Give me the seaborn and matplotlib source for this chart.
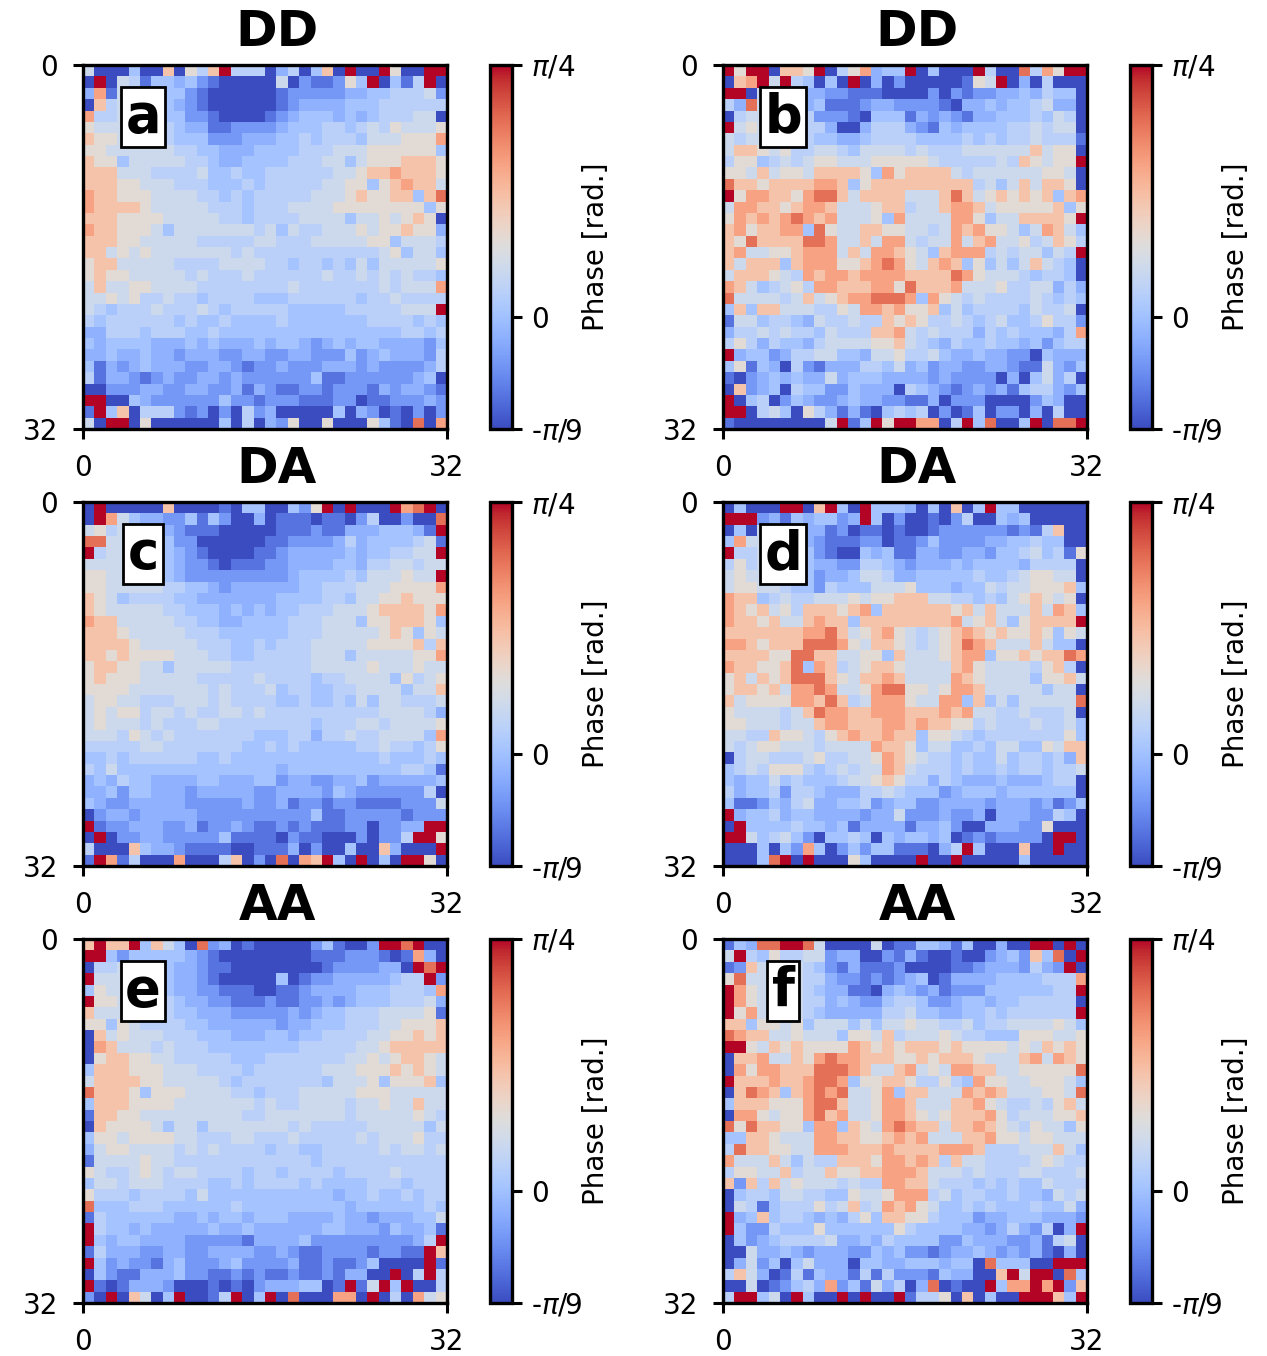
import numpy as np
import matplotlib
matplotlib.use('Agg')
import matplotlib.pyplot as plt
import seaborn as sns

# colour-level code -> fraction of the colour range (vmin .. vmax)
code_frac = {'0': 0.00, '1': 0.09, '2': 0.18, '3': 0.26, '4': 0.32, '5': 0.38,
             '6': 0.44, '7': 0.52, '8': 0.63, '9': 0.73, 'A': 0.84, 'B': 1.00}
vmin, vmax = -np.pi / 9, np.pi / 4

titles = ['DD', 'DD', 'DA', 'DA', 'AA', 'AA']
letters = ['a', 'b', 'c', 'd', 'e', 'f']

panel_a = [
    "6 0 0 0 4 0 0 8 0 7 5 8 B 5 5 5 0 3 5 0 4 8 0 B 0 0 B 7 0 0 B B",
    "0 B 0 6 5 1 4 4 3 4 2 1 0 0 0 0 0 6 0 2 1 1 2 7 4 B 0 4 1 5 B 0",
    "3 9 1 6 6 6 6 4 4 2 1 0 0 0 0 0 0 1 2 2 2 2 2 3 3 4 4 5 5 5 6 2",
    "0 8 5 6 6 6 6 4 3 2 1 0 0 0 0 0 0 1 2 3 3 3 3 4 4 4 5 5 5 5 5 5",
    "9 5 5 6 6 6 6 4 4 2 2 1 0 0 0 0 1 2 3 4 4 4 3 4 3 4 5 5 5 6 6 0",
    "7 6 6 6 6 6 6 5 4 3 3 1 1 2 2 2 2 3 4 4 4 5 5 4 5 6 5 7 6 6 6 7",
    "8 7 7 6 6 6 6 5 4 4 4 2 2 2 3 3 3 4 4 5 4 5 5 5 4 6 6 6 7 7 7 9",
    "7 7 6 6 6 6 6 6 5 5 4 4 3 3 3 4 4 4 4 5 5 5 6 6 6 7 7 7 7 7 7 4",
    "8 7 7 4 6 6 6 6 6 5 5 4 3 3 4 4 4 4 5 5 5 6 6 4 6 7 7 7 8 8 8 7",
    "8 8 8 6 6 6 5 5 5 5 6 4 4 5 4 4 5 5 5 5 5 5 6 6 7 8 8 9 8 8 8 7",
    "8 8 8 7 7 6 6 6 5 5 5 4 4 4 5 4 5 5 5 5 5 6 6 7 7 4 7 8 9 8 8 6",
    "9 8 8 7 7 7 6 6 6 6 5 5 4 5 4 5 5 5 5 5 6 6 6 7 8 7 7 8 8 4 8 A",
    "9 8 8 8 8 7 6 6 6 6 6 5 5 5 4 5 5 5 6 6 6 6 7 7 7 7 7 7 7 7 4 7",
    "8 8 8 7 7 7 7 6 6 6 6 6 5 5 4 5 5 5 5 6 6 6 6 4 6 6 7 6 7 8 7 0",
    "9 8 8 7 7 7 6 4 6 6 6 6 6 6 6 5 6 4 6 5 5 6 6 6 7 6 7 7 8 7 7 3",
    "8 8 8 7 7 6 6 6 6 6 5 5 5 5 5 6 6 5 5 5 6 6 6 6 6 7 7 4 6 6 6 5",
    "8 8 6 7 6 7 6 6 6 6 6 6 6 5 6 5 5 5 5 5 5 5 5 5 5 5 6 7 4 6 6 4",
    "7 8 8 6 6 6 6 6 5 5 5 5 6 6 6 6 5 5 4 5 5 4 5 4 6 4 6 6 6 6 6 7",
    "7 8 7 7 6 6 6 6 6 5 6 5 5 5 6 5 5 5 5 5 5 6 5 5 6 5 6 5 6 5 5 4",
    "6 8 6 6 7 7 6 6 6 6 5 5 5 5 5 5 5 5 6 5 5 5 5 5 5 5 6 5 6 6 6 9",
    "6 6 7 6 7 5 5 6 5 5 4 5 5 5 5 4 4 4 5 5 5 5 5 5 4 5 5 6 5 5 5 5",
    "6 5 4 5 5 5 6 5 5 5 6 5 4 5 5 5 5 5 4 4 4 4 4 5 5 5 5 5 6 6 6 B",
    "5 4 5 5 5 5 5 5 4 5 4 4 5 4 4 4 4 5 4 4 4 4 4 4 4 5 5 5 5 4 5 4",
    "3 3 5 5 5 4 5 5 5 4 4 5 4 4 4 4 4 4 4 4 4 4 4 4 4 4 4 4 5 5 4 5",
    "4 3 4 4 4 4 3 3 3 4 3 4 3 3 3 4 3 4 4 3 2 3 4 3 4 4 3 3 3 3 2 4",
    "3 3 4 3 3 4 3 3 2 3 3 3 2 2 3 3 2 2 3 3 2 2 2 4 2 3 4 3 3 3 2 5",
    "4 1 3 2 3 4 3 3 3 2 2 3 3 2 1 2 2 3 2 2 2 3 3 3 2 3 2 2 2 2 3 5",
    "5 1 3 3 2 1 2 3 2 2 3 3 2 3 2 2 2 2 2 2 4 1 1 2 2 2 2 2 2 3 4 0",
    "0 0 2 2 2 3 3 2 2 3 3 2 2 3 1 3 2 1 1 2 2 1 2 2 2 1 3 2 3 3 2 1",
    "B B 0 0 4 3 2 2 2 2 2 2 4 2 2 1 2 2 2 1 1 1 2 2 0 1 1 2 2 2 3 2",
    "1 B 4 8 0 5 5 5 2 1 2 0 2 0 5 2 3 0 0 0 0 0 4 0 3 2 0 1 0 2 0 2",
    "6 0 B B 0 7 0 0 0 0 0 0 4 0 5 0 3 2 7 0 0 7 0 0 0 7 4 1 0 A 0 9",
]

panel_b = [
    "B 7 B B 0 8 8 7 B 0 5 7 9 3 4 4 B 0 4 0 0 0 B 5 0 0 A 5 9 7 B B",
    "0 8 9 B 6 B 5 4 0 4 0 B 0 3 0 2 0 0 0 0 0 1 7 6 B 0 3 0 5 0 0 0",
    "B B 0 6 6 6 6 3 3 2 2 1 1 1 0 0 0 0 2 0 2 1 2 2 3 3 4 3 5 4 4 0",
    "5 3 A 6 6 6 6 3 4 1 1 1 2 3 3 2 2 2 2 1 0 3 3 4 3 4 4 5 6 3 3 0",
    "0 5 6 6 6 6 6 5 2 2 2 1 0 4 4 4 1 3 2 3 2 1 3 3 4 4 4 5 4 6 5 0",
    "B 6 7 6 6 6 6 5 5 3 0 0 3 5 5 5 3 2 1 4 3 4 4 4 4 5 5 6 5 6 6 0",
    "6 5 6 6 6 6 6 5 4 4 3 3 4 5 5 5 5 4 4 4 4 5 4 5 4 5 5 6 5 5 5 1",
    "6 8 8 7 6 7 5 5 6 6 5 4 6 6 6 6 5 6 5 5 5 6 6 6 6 6 6 8 6 7 7 0",
    "5 7 7 4 5 6 5 6 7 7 6 6 6 7 7 7 7 7 6 5 5 5 5 5 6 5 8 7 6 7 7 B",
    "7 7 6 8 6 7 7 6 8 8 8 8 7 4 9 7 8 8 8 8 6 5 6 6 6 6 6 6 7 7 6 0",
    "A 8 8 7 8 8 8 8 9 9 8 4 7 8 8 8 8 8 8 8 8 8 5 6 4 6 8 6 8 8 7 0",
    "B 7 9 9 8 8 7 9 A A 8 6 8 8 8 8 6 6 6 8 A 8 6 7 8 7 8 7 8 4 8 9",
    "6 9 9 8 8 7 8 9 9 8 6 6 6 7 8 8 5 6 6 8 9 9 8 6 7 7 7 7 7 8 4 7",
    "7 9 8 9 8 9 A 9 8 9 6 6 6 7 4 9 6 6 6 6 9 9 7 4 6 6 8 8 8 8 7 B",
    "8 9 7 8 8 9 9 4 A 7 6 6 8 8 7 7 6 6 5 6 9 8 9 7 7 6 4 6 9 8 6 4",
    "8 7 A 8 8 8 8 A A 9 6 6 8 6 9 9 6 5 6 6 9 6 8 9 6 6 7 5 6 8 7 5",
    "8 9 6 6 7 7 8 9 9 9 6 8 6 9 9 8 7 6 4 8 9 9 9 5 6 5 6 6 4 6 5 B",
    "8 6 8 8 8 4 8 9 9 9 7 7 8 9 A 9 7 6 8 9 8 4 7 4 6 4 6 8 6 5 4 0",
    "6 8 8 8 7 6 5 9 8 9 9 8 9 9 9 9 8 8 8 8 A 9 7 6 6 6 5 4 5 5 4 0",
    "9 8 6 4 5 6 7 5 9 9 8 8 8 9 9 7 A 8 8 8 9 6 6 6 7 5 5 6 6 3 5 3",
    "A 6 6 6 6 5 6 8 6 7 8 9 9 A A A 9 4 9 7 6 5 6 5 5 5 5 6 5 4 5 4",
    "4 8 4 8 8 6 6 6 5 5 7 6 9 9 8 9 7 7 8 4 6 4 5 5 5 5 4 6 5 5 6 0",
    "1 6 6 4 5 5 4 3 6 5 5 6 5 5 8 7 8 7 5 5 6 5 4 5 6 4 4 5 7 5 5 2",
    "3 5 5 6 5 6 5 5 4 6 5 5 5 8 8 9 6 5 6 5 5 5 3 5 4 5 4 4 4 3 5 9",
    "5 7 5 3 5 4 4 3 5 6 6 6 6 7 7 8 6 5 4 3 5 4 4 5 4 4 3 4 2 4 5 5",
    "B 3 4 4 2 3 5 5 6 6 4 4 3 6 6 7 5 5 6 4 3 3 4 3 3 2 2 0 4 3 3 3",
    "4 7 1 4 3 0 5 2 1 3 3 3 5 5 4 6 3 4 2 3 3 2 2 3 3 2 1 1 6 3 2 4",
    "1 0 2 3 4 3 4 3 3 6 3 4 4 4 3 3 3 3 2 3 2 2 2 2 0 3 0 4 6 3 5 0",
    "0 8 2 3 4 0 5 4 4 2 2 4 3 3 3 0 5 4 3 2 1 2 3 2 3 1 4 5 5 3 2 4",
    "B 0 4 5 0 2 4 3 2 2 3 4 3 3 2 2 1 1 3 0 2 2 2 0 0 0 0 2 4 3 0 0",
    "B B 0 5 6 4 0 7 5 3 1 3 1 0 4 5 4 5 0 2 0 1 4 0 2 2 0 3 0 5 0 0",
    "1 0 0 0 0 0 0 0 0 6 B 1 4 B 7 B B 9 9 0 5 B 4 A 0 0 4 B 0 A A B",
]

panel_c = [
    "0 B 0 0 0 0 0 8 0 0 0 0 1 0 4 4 0 0 4 2 7 B 0 B 0 0 0 B 9 A B 0",
    "0 B 9 6 4 3 3 2 2 4 1 4 2 0 0 3 0 1 1 1 0 1 1 0 2 5 0 0 2 0 0 A",
    "6 7 5 6 6 6 6 3 2 1 1 1 0 0 0 0 0 1 1 1 2 1 1 3 3 3 4 4 4 3 1 B",
    "A A 6 6 6 6 6 4 2 2 0 0 0 0 0 0 1 1 2 2 2 2 3 5 3 4 4 4 4 5 6 1",
    "B 5 6 6 6 6 6 4 3 2 1 0 0 0 0 1 1 2 3 3 3 3 3 4 3 4 4 5 5 6 6 B",
    "6 6 6 6 6 6 6 4 3 2 2 1 0 1 1 1 2 2 3 3 3 3 4 4 3 5 5 6 6 5 6 6",
    "7 7 6 6 6 6 6 4 3 2 2 2 2 2 2 2 2 2 3 4 4 4 4 5 4 6 6 6 7 6 6 B",
    "7 7 6 6 6 6 6 5 5 4 4 3 2 3 3 3 3 3 3 4 4 5 5 5 6 6 6 7 7 7 7 9",
    "8 7 6 4 5 5 5 5 4 4 3 3 3 3 3 3 3 4 4 4 4 5 5 4 6 6 7 7 8 7 7 7",
    "8 7 6 6 6 6 6 5 5 4 4 4 3 4 3 4 3 4 4 5 5 5 6 6 6 7 8 8 8 8 7 9",
    "9 8 8 6 6 6 6 6 5 5 4 4 3 3 4 4 4 4 5 5 5 6 6 6 4 7 7 8 8 8 7 4",
    "8 8 8 7 6 6 6 6 6 5 5 5 4 4 4 4 4 4 5 5 5 6 6 6 6 6 7 8 7 4 7 6",
    "8 8 8 8 7 6 6 6 6 6 5 5 5 4 4 5 4 5 5 5 6 6 6 6 6 7 7 7 7 8 5 8",
    "8 8 7 8 7 7 7 7 6 6 6 5 5 4 4 5 5 5 5 5 6 6 6 4 6 6 6 6 6 7 7 9",
    "7 8 8 7 7 6 6 4 6 6 6 6 6 5 5 5 5 5 5 5 6 6 6 6 6 7 6 6 6 7 6 6",
    "7 8 7 7 7 6 6 6 6 6 5 5 5 5 5 6 5 5 5 5 4 5 5 6 6 6 6 4 7 5 6 7",
    "7 7 7 7 6 6 6 6 6 6 6 5 6 5 5 5 6 4 5 5 4 4 5 5 6 6 6 6 4 6 6 8",
    "6 7 7 6 6 5 5 5 6 6 6 5 6 5 5 5 5 4 4 5 4 4 5 4 6 4 6 6 5 5 5 6",
    "6 7 6 7 7 5 6 6 5 6 5 5 6 6 5 6 5 5 5 5 5 5 5 5 5 5 6 6 6 6 5 3",
    "6 7 6 6 6 5 6 5 5 5 6 6 5 5 5 5 5 5 5 5 4 5 5 5 6 6 5 6 6 6 6 7",
    "6 6 6 5 7 6 5 6 5 5 5 5 5 5 5 4 4 4 5 5 3 5 5 6 5 5 6 6 6 6 4 9",
    "5 5 5 5 5 6 6 5 5 5 5 5 5 5 4 4 5 4 5 4 4 4 4 4 5 5 6 5 5 4 5 7",
    "4 4 5 4 5 5 5 5 5 5 4 4 5 4 4 4 4 4 4 4 4 4 4 4 4 4 5 4 4 4 5 4",
    "5 4 6 4 4 4 4 4 4 4 4 4 4 4 4 4 4 3 4 4 4 4 4 4 4 4 4 4 5 5 4 1",
    "3 4 3 5 4 4 3 3 3 3 4 4 3 3 3 4 4 2 3 3 2 2 3 3 4 2 3 3 3 3 3 4",
    "3 3 4 2 4 4 3 3 3 2 3 3 3 3 3 2 2 3 3 3 3 2 4 3 2 2 2 2 2 2 5 0",
    "4 3 2 2 3 3 3 3 3 2 2 2 2 2 3 2 2 3 1 2 2 1 2 2 1 1 1 1 2 2 2 6",
    "0 2 3 3 2 3 3 3 3 3 2 2 2 2 2 2 2 2 2 2 4 1 1 2 2 2 2 2 1 2 2 2",
    "B 1 2 2 3 3 3 2 2 3 1 2 2 3 2 1 1 2 1 2 1 1 1 2 2 0 2 2 3 3 B B",
    "0 B 0 2 2 3 3 2 2 2 2 2 4 1 1 1 1 0 2 1 1 0 0 0 2 0 2 2 5 B B 7",
    "5 0 0 0 8 4 3 3 2 1 1 1 1 0 0 1 1 1 3 0 2 0 0 4 0 0 8 3 0 0 0 B",
    "1 B 9 1 5 0 0 0 9 0 0 0 5 8 0 2 0 A 0 9 8 B 4 0 B 0 4 0 B B 7 0",
]

panel_d = [
    "0 4 0 0 0 B B 0 8 B 4 0 B 4 4 4 3 0 4 0 8 0 4 B 4 4 0 0 0 0 0 0",
    "B B B 2 3 1 4 3 4 4 2 3 B 4 0 2 0 0 1 0 2 5 0 0 4 3 4 0 0 0 0 0",
    "0 4 0 6 6 6 6 3 3 1 2 0 1 1 0 1 0 0 1 2 2 2 2 2 2 1 2 1 5 8 0 0",
    "4 9 6 6 6 6 6 3 2 1 1 1 2 2 0 1 1 2 4 2 2 2 2 3 3 4 4 5 4 4 0 0",
    "B 5 5 6 6 6 6 4 2 1 0 0 4 3 4 1 1 3 3 2 2 3 3 2 4 4 5 6 4 5 1 7",
    "5 7 5 6 6 6 6 4 3 3 2 2 5 5 4 3 2 3 3 3 4 3 4 4 4 4 3 5 5 5 5 0",
    "6 7 6 6 6 6 6 4 2 3 3 4 6 6 5 3 3 4 4 4 4 4 5 4 4 5 6 7 7 6 6 0",
    "6 7 7 6 6 5 4 4 2 5 4 4 4 6 6 6 7 4 4 4 3 4 4 6 5 6 6 7 7 7 8 4",
    "9 8 8 4 5 6 5 5 6 6 6 7 6 7 7 8 8 8 6 6 5 5 4 5 4 6 7 8 7 6 7 0",
    "9 8 7 8 6 7 5 8 8 8 7 8 9 4 8 8 8 8 8 8 7 8 6 8 6 6 6 8 6 9 8 4",
    "9 8 8 7 8 6 6 8 9 8 8 4 8 8 8 8 8 8 8 8 9 6 7 8 6 4 7 8 8 8 8 B",
    "8 8 8 8 8 8 8 9 9 A 8 6 7 8 9 7 6 5 6 7 8 9 8 7 8 7 7 8 7 4 7 6",
    "9 9 8 7 8 8 8 A A A 9 7 6 8 8 7 6 5 6 7 8 A 9 8 6 6 6 8 6 4 4 0",
    "8 8 8 8 7 7 A A 8 8 6 6 7 7 4 8 6 6 6 7 8 9 9 4 7 7 8 7 8 8 A 9",
    "9 8 8 7 7 8 A 4 9 8 5 6 7 8 8 7 6 6 6 6 8 9 7 6 6 6 6 5 7 8 5 0",
    "7 8 6 8 7 8 A A A 8 7 6 8 8 9 8 6 6 6 6 9 8 7 6 6 6 6 4 7 7 8 6",
    "7 8 8 7 8 6 9 9 A 9 6 6 7 9 A A 7 7 6 7 9 9 8 6 6 6 6 6 4 6 6 0",
    "8 6 7 7 7 7 9 9 8 A 8 5 6 9 9 9 7 6 6 9 9 4 8 4 6 4 6 6 6 6 6 A",
    "7 6 6 6 6 5 6 8 A 9 9 8 8 9 9 9 8 8 8 9 8 9 6 6 5 5 6 5 5 5 6 0",
    "7 7 6 6 6 5 6 6 8 9 9 8 8 8 9 9 8 9 8 8 7 7 5 6 5 5 5 6 5 5 6 4",
    "6 6 5 5 8 7 7 6 5 7 8 9 8 8 9 8 8 4 7 7 6 5 4 5 5 5 5 5 5 5 7 4",
    "6 5 6 7 7 6 6 6 5 6 6 6 6 9 8 8 7 4 6 6 4 4 5 4 6 6 4 4 7 6 8 8",
    "0 5 6 6 5 5 5 6 7 5 5 6 6 7 9 8 7 6 5 5 4 5 4 4 6 4 5 5 4 5 3 8",
    "4 5 6 5 7 7 7 5 4 5 6 5 6 6 9 8 6 5 5 5 4 5 4 4 5 4 5 5 4 5 5 6",
    "4 3 4 4 6 4 5 4 4 4 5 6 6 7 8 7 5 5 3 5 4 3 3 3 4 3 3 3 4 5 5 0",
    "5 3 4 4 5 2 5 5 4 3 3 3 5 5 6 5 4 4 4 2 3 4 4 4 3 4 4 4 4 4 4 0",
    "4 1 1 2 4 3 5 6 3 3 4 4 5 2 3 4 4 2 2 3 3 3 3 2 3 3 3 2 3 1 2 4",
    "B 3 4 4 5 3 4 4 3 3 3 3 2 3 3 6 2 2 2 3 2 2 3 0 3 3 3 2 2 5 4 0",
    "0 B 4 4 4 4 5 4 4 3 4 1 3 3 3 3 1 3 3 4 2 0 0 3 3 3 2 2 7 0 0 0",
    "B B 6 4 5 6 4 2 0 4 4 5 4 0 4 3 4 4 3 4 0 1 2 1 2 2 2 2 0 B B 0",
    "0 0 0 4 0 4 2 9 4 0 2 4 2 4 4 1 1 1 0 3 5 B 4 0 0 0 8 0 0 B 0 0",
    "0 0 0 4 A B 0 B 0 0 0 7 4 0 0 0 0 B 0 0 B 0 0 0 0 0 4 0 0 0 0 0",
]

panel_e = [
    "8 B 8 8 B 4 8 6 4 0 A 2 3 0 1 0 0 0 0 0 2 4 1 0 0 2 B B A B 0 0",
    "B B 4 2 4 4 4 4 4 3 2 1 0 0 0 0 0 0 0 0 1 1 1 2 2 2 1 0 1 9 3 0",
    "0 5 5 6 6 6 6 4 3 3 2 1 1 0 0 0 0 0 0 0 0 1 2 2 2 2 3 3 0 B A B",
    "B 6 6 6 6 6 6 4 3 3 2 1 0 0 0 0 0 4 0 1 2 2 3 3 3 3 3 4 5 5 B 2",
    "4 7 6 6 6 6 6 4 3 3 2 2 1 1 1 0 0 1 1 2 3 3 3 3 4 4 4 5 5 5 4 9",
    "B 7 7 6 6 6 6 5 4 3 3 2 2 1 1 1 2 1 1 2 2 3 2 3 4 4 4 5 5 5 6 3",
    "8 6 6 6 6 6 6 5 4 4 3 3 3 2 2 2 2 2 3 2 3 4 4 5 5 5 6 6 6 6 7 1",
    "7 7 4 7 6 5 5 5 5 4 4 3 3 3 3 3 3 2 3 3 4 4 4 5 5 5 6 6 7 7 7 8",
    "0 8 6 7 6 6 6 5 5 5 4 4 4 3 3 3 4 4 3 4 4 5 5 5 5 6 6 7 7 8 7 8",
    "0 9 8 6 6 6 5 6 5 5 5 4 4 4 4 4 4 4 4 5 5 5 5 5 6 6 7 8 8 8 8 8",
    "0 7 8 8 7 7 6 6 5 5 5 5 5 4 4 4 5 5 5 5 5 5 5 6 6 7 6 7 8 8 7 6",
    "4 8 8 8 7 7 7 6 6 6 5 5 5 5 4 5 5 5 5 5 5 6 6 6 7 7 7 8 7 8 7 6",
    "6 8 8 8 8 7 7 6 6 6 6 6 5 4 5 5 5 5 5 5 5 4 6 6 6 7 4 7 7 7 8 4",
    "A 8 8 8 7 4 7 7 7 6 6 6 6 5 5 4 5 5 5 6 6 6 6 6 7 7 7 6 6 6 6 6",
    "4 8 8 8 7 7 7 7 6 6 6 6 6 6 6 5 6 5 5 6 6 6 6 5 6 6 7 6 6 8 6 6",
    "1 8 8 7 7 6 6 6 6 6 6 6 6 6 5 5 6 6 6 6 6 6 6 5 6 6 6 6 6 7 6 5",
    "0 8 7 7 7 7 6 4 6 6 4 6 6 6 6 6 6 6 5 6 5 5 5 5 5 6 6 6 6 6 4 6",
    "4 7 7 6 7 7 7 7 6 6 5 5 5 6 6 5 5 5 6 5 5 5 5 5 6 5 6 6 6 7 5 5",
    "3 6 7 7 6 6 6 6 5 6 5 6 5 5 5 5 4 5 5 4 4 5 5 5 5 5 6 5 6 6 5 6",
    "1 6 6 6 6 7 6 6 5 5 5 5 5 5 5 5 5 5 5 5 4 5 5 5 5 5 5 5 5 5 5 5",
    "7 6 5 5 6 7 6 5 6 6 5 5 5 5 4 5 5 4 5 5 5 5 4 5 5 5 5 6 5 5 5 5",
    "4 6 6 5 6 6 6 5 5 5 5 4 4 5 4 5 5 5 5 4 5 4 4 4 4 5 5 5 4 5 5 5",
    "7 5 5 5 4 5 5 5 5 4 6 4 4 4 4 4 4 4 4 4 4 4 3 4 4 5 4 4 5 4 5 5",
    "A 4 4 4 5 5 5 4 4 4 4 4 4 5 4 4 4 4 4 4 4 4 4 3 4 4 4 4 4 4 5 4",
    "1 5 4 4 4 4 4 4 3 3 4 3 4 4 3 4 4 4 3 3 3 3 4 3 3 2 3 3 3 4 4 6",
    "B 5 4 4 3 4 3 3 3 3 3 4 3 3 4 3 3 3 3 3 3 4 4 3 3 3 2 4 3 3 4 1",
    "B 4 3 4 4 3 3 3 3 2 2 2 2 2 1 3 3 3 3 4 2 2 2 2 2 2 2 2 2 3 5 B",
    "1 5 3 3 3 2 2 3 3 2 2 3 3 3 3 2 2 3 2 1 1 2 2 2 2 1 2 2 1 1 B 8",
    "B 4 2 3 2 2 1 3 4 2 2 2 3 4 2 2 2 2 3 1 1 2 1 1 2 4 0 0 0 0 B 1",
    "0 4 2 1 1 3 3 3 4 2 2 1 1 2 1 2 1 1 2 1 1 2 1 3 3 0 0 B 0 5 B 5",
    "B 1 0 1 3 3 3 2 0 0 0 1 0 1 0 2 3 3 3 4 4 0 1 B 1 6 B 4 B 0 0 5",
    "2 0 B 0 8 6 0 4 B 0 0 1 5 B 0 4 B 0 A 0 0 0 9 9 0 B 0 5 0 9 6 7",
]

panel_f = [
    "1 4 3 A A B B A 6 0 0 0 0 6 0 1 1 4 4 3 1 4 0 0 3 0 0 B B 0 B 0",
    "6 B 5 4 7 5 5 6 6 2 3 3 0 0 2 1 3 1 0 0 1 0 0 2 3 4 2 8 4 A 0 B",
    "1 2 8 6 6 6 6 5 4 2 1 3 1 1 1 2 0 0 0 0 1 1 2 3 3 3 2 5 3 2 B 0",
    "7 A 6 6 6 6 6 5 5 3 2 2 1 2 1 2 3 4 0 1 3 3 3 3 4 4 4 4 5 5 5 9",
    "B 9 7 6 6 6 6 5 4 3 3 1 1 0 3 4 3 2 3 1 2 2 2 4 4 4 4 4 4 5 5 B",
    "B 9 7 6 6 6 6 5 5 3 4 3 2 2 4 5 5 4 2 2 3 4 4 3 4 4 5 5 5 5 5 0",
    "B 7 9 6 6 6 6 5 4 3 3 3 3 3 5 5 6 4 4 3 3 4 4 5 4 5 5 5 5 5 5 B",
    "8 8 4 7 7 6 7 4 6 6 6 4 6 4 6 6 7 6 6 5 5 6 4 5 5 6 6 6 6 7 6 4",
    "A 9 8 8 6 6 7 6 6 6 4 7 7 6 8 5 6 6 6 7 6 5 5 4 4 4 7 7 7 6 6 7",
    "B B 7 6 8 7 8 7 7 7 7 9 8 7 8 7 8 8 8 7 8 7 7 7 7 6 7 6 8 7 8 7",
    "0 8 8 9 6 6 8 7 9 A 9 9 8 8 8 7 7 8 7 8 8 8 7 6 6 6 8 9 6 9 8 7",
    "0 9 7 9 9 8 8 8 A A A 9 8 6 6 8 9 6 7 6 9 9 8 8 6 6 7 7 7 7 7 A",
    "B 8 8 8 9 8 8 9 A A 9 4 7 7 8 8 7 5 5 7 5 4 9 7 7 6 6 7 7 7 6 4",
    "0 8 A 9 8 4 8 9 A 9 A 6 6 7 9 4 8 8 6 6 6 9 8 9 8 6 6 6 7 7 6 A",
    "4 8 8 8 7 7 7 9 A A 8 6 6 7 9 9 8 6 6 6 8 8 9 7 6 5 5 6 5 7 8 6",
    "0 9 9 7 6 7 7 9 A 8 9 6 6 7 9 9 8 7 6 7 8 8 8 9 7 5 6 6 6 7 7 8",
    "A 7 A 8 8 7 7 4 9 9 4 8 7 6 9 A 9 8 8 6 8 8 9 8 7 6 5 7 6 6 4 7",
    "4 4 8 8 7 6 6 6 9 9 8 8 7 7 8 9 8 9 6 6 6 8 8 9 7 7 6 7 7 6 6 6",
    "5 A 8 8 7 7 6 6 9 9 9 8 8 8 9 8 8 8 8 9 9 9 8 5 5 5 6 6 6 8 6 4",
    "9 6 6 6 8 6 4 6 5 5 8 8 8 7 9 9 8 9 8 5 8 6 6 5 5 5 5 6 7 6 5 5",
    "5 7 7 6 6 8 5 6 6 8 7 7 8 8 9 9 9 8 6 6 6 5 6 5 5 5 6 6 5 5 5 6",
    "8 2 8 5 8 6 7 6 6 6 5 6 5 5 9 9 8 8 6 5 5 5 4 5 4 5 4 4 6 5 5 5",
    "0 4 5 5 4 6 6 5 5 4 4 7 6 6 7 9 9 9 5 6 4 5 5 4 4 5 4 4 3 6 5 6",
    "0 6 5 1 4 5 5 5 7 5 6 8 5 6 9 8 9 7 6 4 4 5 4 5 4 4 4 5 4 4 6 3",
    "B 3 4 8 4 5 5 4 3 4 3 5 7 4 8 8 7 7 5 4 4 4 2 3 3 4 4 4 3 3 3 2",
    "B 4 2 2 5 4 4 4 7 4 4 4 4 4 4 7 5 4 4 4 4 3 3 2 3 5 3 2 5 0 3 B",
    "0 4 2 3 4 5 5 5 5 6 3 3 4 3 5 4 4 4 4 2 2 4 3 3 3 2 2 3 1 5 6 0",
    "0 0 6 3 3 4 3 2 3 3 3 2 2 4 3 4 2 2 1 2 3 3 4 3 2 3 2 3 1 0 3 0",
    "0 3 6 2 4 0 4 6 3 3 3 0 4 4 3 3 4 4 4 3 4 4 0 A 4 4 4 0 0 B B B",
    "5 8 6 3 0 1 5 1 4 3 3 1 5 1 5 2 2 2 1 4 3 3 0 0 8 B 6 B B 0 A 4",
    "0 0 6 0 1 2 4 5 3 9 2 4 1 6 3 5 0 3 A 0 1 0 0 B 4 9 9 B 9 B 2 8",
    "5 B B 4 6 0 B 4 0 0 B 0 B 0 0 B 1 5 5 7 0 8 0 4 0 0 B B B 8 4 B",
]

panels = [panel_a, panel_b, panel_c, panel_d, panel_e, panel_f]


def decode(rows):
    grid = [[code_frac[c] for c in r.split()] for r in rows]
    assert len(grid) == 32 and all(len(g) == 32 for g in grid)
    return vmin + np.array(grid) * (vmax - vmin)


W, H = 1267, 1356
fig = plt.figure(figsize=(W / 100, H / 100), dpi=100)

col_left = [83, 723]
cbar_left = [490, 1130]
row_top = [65, 502, 939]
size = 364

for i, rows in enumerate(panels):
    r, c = divmod(i, 2)
    ax = fig.add_axes([col_left[c] / W, (H - row_top[r] - size) / H, size / W, size / H])
    cax = fig.add_axes([cbar_left[c] / W, (H - row_top[r] - size) / H, 22 / W, size / H])
    data = decode(rows)
    sns.heatmap(data, ax=ax, cbar_ax=cax, cmap='coolwarm', vmin=vmin, vmax=vmax,
                xticklabels=False, yticklabels=False)

    ax.set_xticks([0, 32])
    ax.set_xticklabels(['0', '32'])
    ax.set_yticks([0, 32])
    ax.set_yticklabels(['0', '32'], rotation=0)
    ax.tick_params(length=7, width=2.2, labelsize=20, pad=11)
    for sp in ax.spines.values():
        sp.set_visible(True)
        sp.set_linewidth(2.4)
        sp.set_color('black')

    ax.set_title(titles[i], fontsize=36, fontweight='bold', x=0.533, pad=14)
    ax.text(0.165, 0.857, letters[i], transform=ax.transAxes, ha='center', va='center',
            fontsize=38, fontweight='bold',
            bbox=dict(boxstyle='square,pad=0.08', fc='white', ec='black', lw=2))

    cbar = ax.collections[0].colorbar
    cbar.set_ticks([-np.pi / 9, 0, np.pi / 4])
    cbar.set_ticklabels([r'-$\pi$/9', '0', r'$\pi$/4'])
    cbar.outline.set_linewidth(2.4)
    cbar.outline.set_edgecolor('black')
    cbar.ax.tick_params(length=7, width=2.2, labelsize=20, pad=7)
    cbar.set_label('Phase [rad.]', fontsize=20, labelpad=0)

fig.savefig('out.png', dpi=100)
